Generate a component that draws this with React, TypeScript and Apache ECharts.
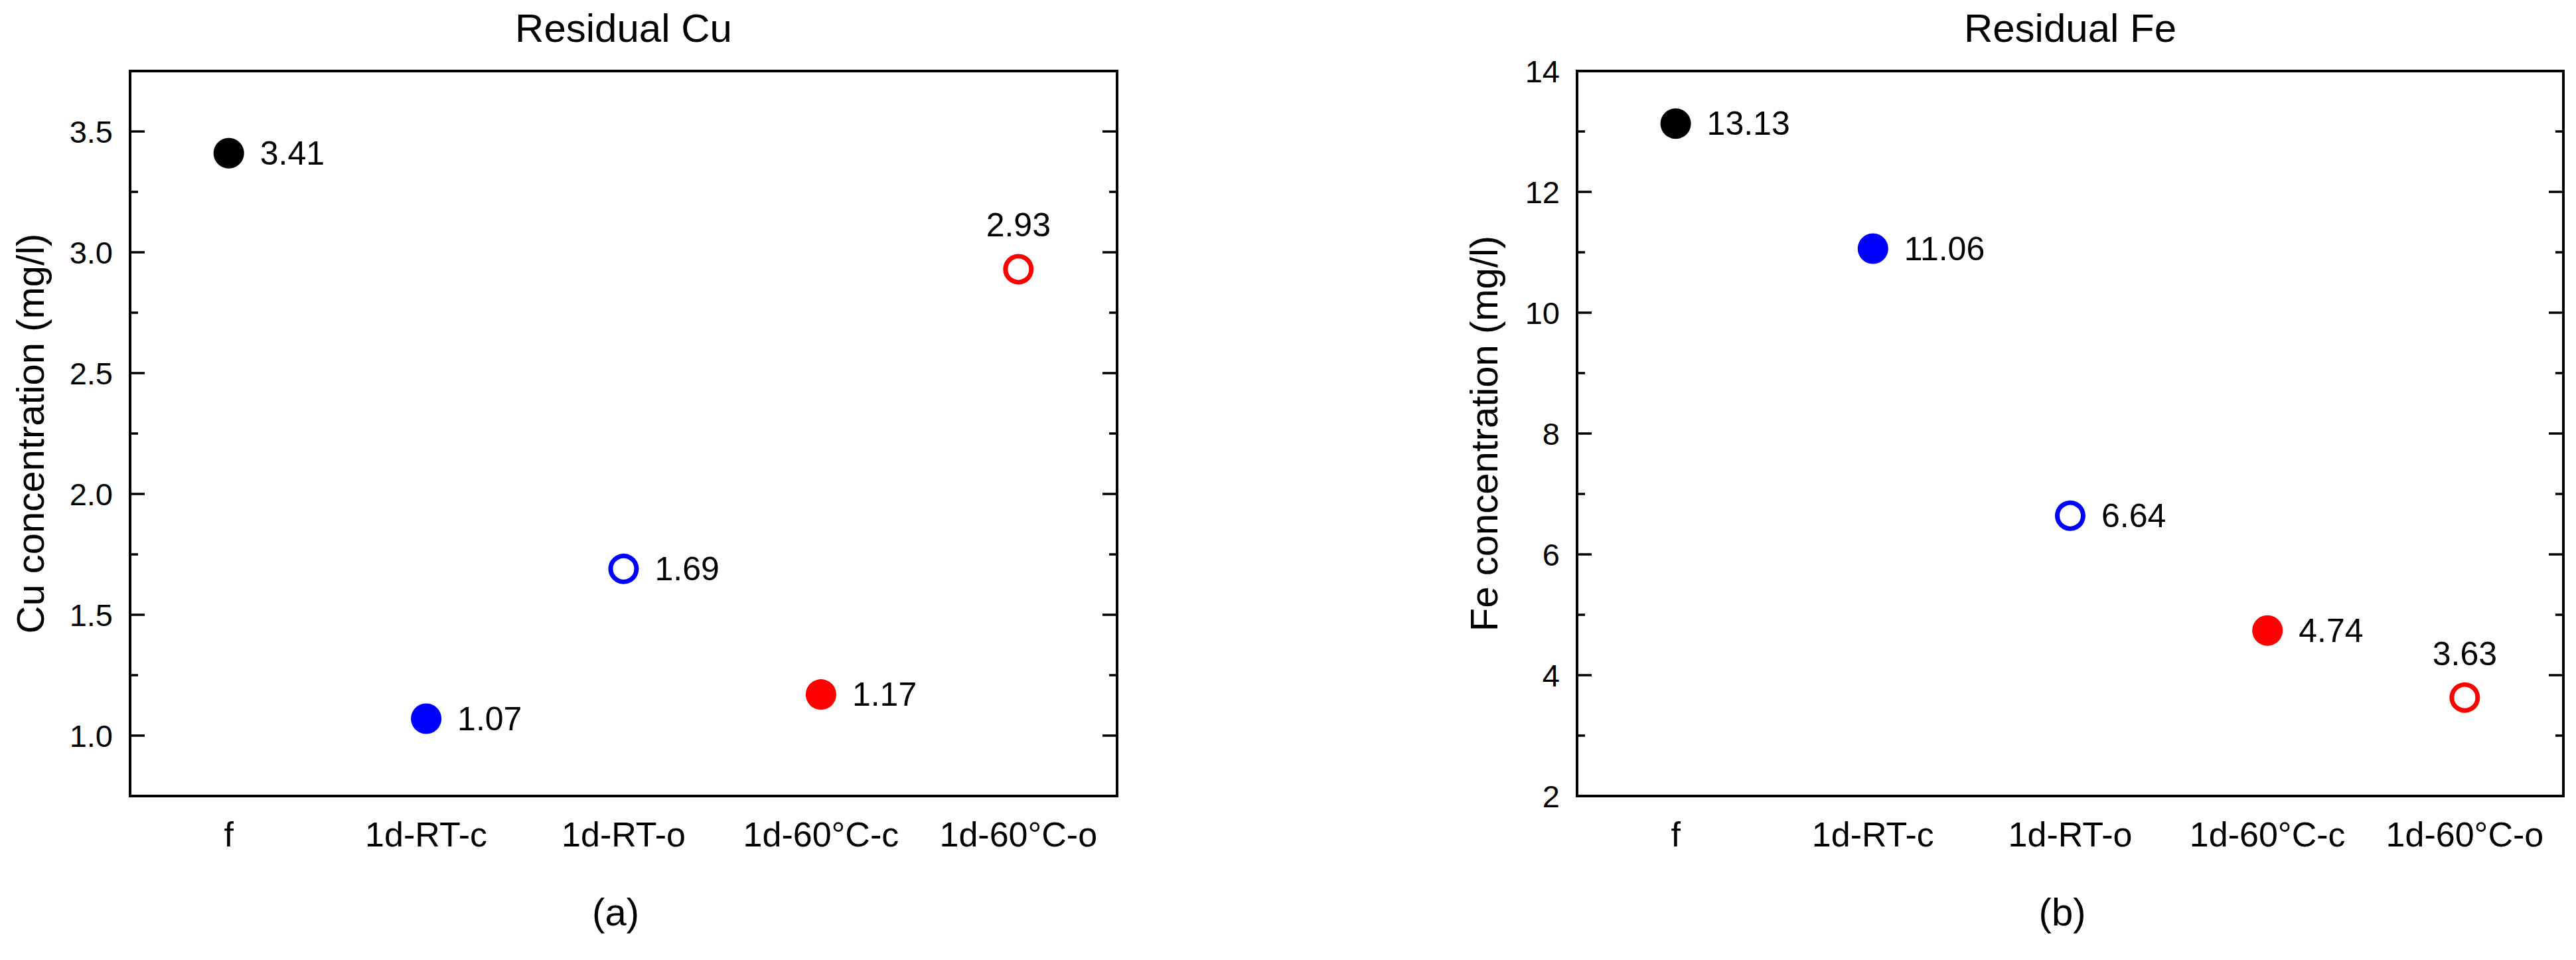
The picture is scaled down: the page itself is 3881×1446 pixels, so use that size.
import React, { useEffect, useRef } from "react";
import * as echarts from "echarts";

const categories = ["f", "1d-RT-c", "1d-RT-o", "1d-60°C-c", "1d-60°C-o"];
const cuValues = [3.41, 1.07, 1.69, 1.17, 2.93];
const feValues = [13.13, 11.06, 6.64, 4.74, 3.63];
const cuMajorTicks = [1.0, 1.5, 2.0, 2.5, 3.0, 3.5];
const cuMinorTicks = [1.25, 1.75, 2.25, 2.75, 3.25];
const feMajorTicks = [2, 4, 6, 8, 10, 12, 14];
const feMinorTicks = [3, 5, 7, 9, 11, 13];
const titles = ["Residual Cu", "Residual Fe"];
const yNames = ["Cu concentration (mg/l)", "Fe concentration (mg/l)"];
const panelTags = ["(a)", "(b)"];

const markerColors = ["#000000", "#0000ff", "#0000ff", "#ff0000", "#ff0000"];
const markerHollow = [false, false, true, false, true];

const FONT = "'Liberation Sans', Arial, sans-serif";

function buildYAxes(gridIndex: number, min: number, max: number, step: number,
  majors: number[], minors: number[], fmt: (v: number) => string, name: string, nameGap: number) {
  const common = {
    gridIndex, type: "value", min, max, interval: step,
    axisLine: { show: false }, splitLine: { show: false },
  };
  const tick = (vals: number[], len: number) => ({
    show: true, inside: true, length: len, customValues: vals,
    lineStyle: { color: "#000", width: 3.5 },
  });
  return [
    {
      ...common, position: "left",
      axisTick: tick(majors, 22),
      axisLabel: {
        show: true, customValues: majors, formatter: (v: number) => fmt(v),
        fontSize: 47, color: "#000", fontFamily: FONT, margin: 26,
      },
      name, nameLocation: "middle", nameGap,
      nameTextStyle: { fontSize: 58, color: "#000", fontFamily: FONT },
    },
    { ...common, position: "left", axisTick: tick(minors, 12), axisLabel: { show: false } },
    { ...common, position: "right", axisTick: tick(majors, 22), axisLabel: { show: false } },
    { ...common, position: "right", axisTick: tick(minors, 12), axisLabel: { show: false } },
  ];
}

function buildSeries(values: number[], xIdx: number, yIdx: number) {
  return {
    type: "scatter", xAxisIndex: xIdx, yAxisIndex: yIdx,
    emphasis: { disabled: true },
    data: values.map((v, i) => {
      const hollow = markerHollow[i];
      return {
        value: v,
        symbol: "circle",
        symbolSize: hollow ? 39 : 46,
        itemStyle: hollow
          ? { color: "#ffffff", borderColor: markerColors[i], borderWidth: 7, opacity: 1 }
          : { color: markerColors[i], borderWidth: 0, opacity: 1 },
        label: {
          show: true,
          position: i === values.length - 1 ? "top" : "right",
          distance: i === values.length - 1 ? 18 : 24,
          formatter: String(v.toFixed(2)),
          fontSize: 50, color: "#000", fontFamily: FONT, opacity: 1,
        },
      };
    }),
  };
}

export default function App() {
  const ref = useRef<HTMLDivElement>(null);
  useEffect(() => {
    if (!ref.current) return;
    const chart = echarts.init(ref.current, undefined, { renderer: "svg" });
    const grids = [
      { left: 196, top: 107, width: 1487, height: 1092 },
      { left: 2376, top: 107, width: 1486, height: 1092 },
    ].map((g) => ({ ...g, show: true, borderColor: "#000", borderWidth: 4, backgroundColor: "transparent" }));

    const xAxes = [0, 1].map((gi) => ({
      gridIndex: gi, type: "category", data: categories, boundaryGap: true,
      axisLine: { show: false }, axisTick: { show: false }, splitLine: { show: false },
      axisLabel: { fontSize: 52, color: "#000", fontFamily: FONT, margin: 32, interval: 0 },
    }));

    const yAxes = [
      ...buildYAxes(0, 0.75, 3.75, 0.25, cuMajorTicks, cuMinorTicks, (v) => v.toFixed(1), yNames[0], 122),
      ...buildYAxes(1, 2, 14, 1, feMajorTicks, feMinorTicks, (v) => String(Math.round(v)), yNames[1], 112),
    ];

    const centers = [196 + 1487 / 2, 2376 + 1486 / 2];
    const graphic = [
      ...titles.map((t, i) => ({
        type: "text", x: centers[i], y: 42,
        style: { text: t, fontSize: 60, fill: "#000", font: `60px ${FONT}`, textAlign: "center", textVerticalAlign: "middle" },
      })),
      ...panelTags.map((t, i) => ({
        type: "text", x: centers[i] - 12, y: 1373,
        style: { text: t, fontSize: 58, fill: "#000", font: `58px ${FONT}`, textAlign: "center", textVerticalAlign: "middle" },
      })),
    ];

    chart.setOption({
      animation: false,
      backgroundColor: "#ffffff",
      grid: grids,
      xAxis: xAxes,
      yAxis: yAxes,
      series: [buildSeries(cuValues, 0, 0), buildSeries(feValues, 1, 4)],
      graphic,
    });
    return () => chart.dispose();
  }, []);
  return <div ref={ref} style={{ position: "fixed", left: 0, top: 0, width: 3881, height: 1446 }} />;
}
